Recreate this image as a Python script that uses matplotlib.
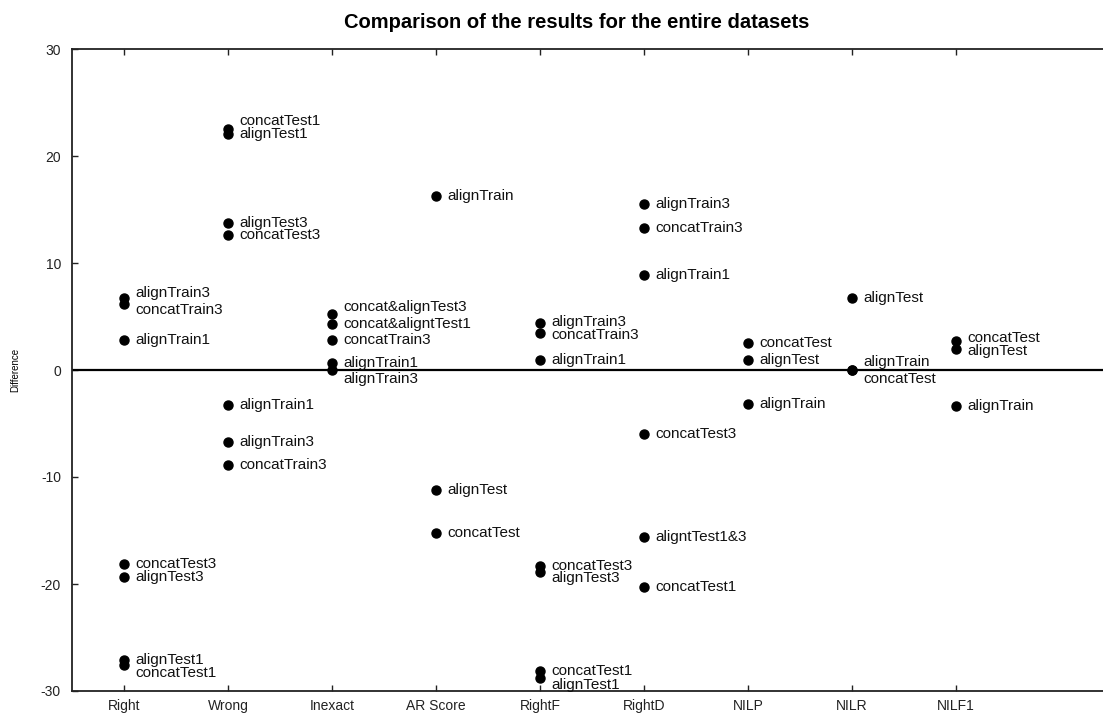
import matplotlib
matplotlib.use("Agg")
import matplotlib.pyplot as plt

plt.rcParams['font.family'] = ['Liberation Sans', 'DejaVu Sans']
plt.rcParams['axes.unicode_minus'] = False

categories = ["Right", "Wrong", "Inexact", "AR Score", "RightF", "RightD", "NILP", "NILR", "NILF1"]

# values, one list per category
right_names = ["alignTrain3", "concatTrain3", "alignTrain1", "concatTest3", "alignTest3", "alignTest1", "concatTest1"]
right_vals = [6.7, 6.2, 2.8, -18.1, -19.3, -27.1, -27.6]

wrong_names = ["concatTest1", "alignTest1", "alignTest3", "concatTest3", "alignTrain1", "alignTrain3", "concatTrain3"]
wrong_vals = [22.5, 22.1, 13.7, 12.6, -3.3, -6.7, -8.9]

inexact_names = ["concat&alignTest3", "concat&aligntTest1", "concatTrain3", "alignTrain1", "alignTrain3"]
inexact_vals = [5.2, 4.3, 2.8, 0.7, 0.0]

ar_names = ["alignTrain", "alignTest", "concatTest"]
ar_vals = [16.3, -11.2, -15.2]

rightf_names = ["alignTrain3", "concatTrain3", "alignTrain1", "concatTest3", "alignTest3", "concatTest1", "alignTest1"]
rightf_vals = [4.4, 3.5, 0.9, -18.3, -18.9, -28.1, -28.8]

rightd_names = ["alignTrain3", "concatTrain3", "alignTrain1", "concatTest3", "aligntTest1&3", "concatTest1"]
rightd_vals = [15.5, 13.3, 8.9, -6.0, -15.6, -20.3]

nilp_names = ["concatTest", "alignTest", "alignTrain"]
nilp_vals = [2.5, 0.9, -3.2]

nilr_names = ["alignTest", "alignTrain", "concatTest"]
nilr_vals = [6.7, 0.0, 0.0]

nilf1_names = ["concatTest", "alignTest", "alignTrain"]
nilf1_vals = [2.7, 2.0, -3.4]

columns = [
    (right_names, right_vals),
    (wrong_names, wrong_vals),
    (inexact_names, inexact_vals),
    (ar_names, ar_vals),
    (rightf_names, rightf_vals),
    (rightd_names, rightd_vals),
    (nilp_names, nilp_vals),
    (nilr_names, nilr_vals),
    (nilf1_names, nilf1_vals),
]

# vertical nudges (pixels, + is down) for labels that would collide
label_nudge = {
    (0, "alignTrain3"): -5, (0, "concatTrain3"): 6, (0, "concatTest1"): 8,
    (1, "concatTest1"): -8,
    (2, "concat&alignTest3"): -7, (2, "alignTrain3"): 9,
    (4, "alignTrain3"): -1, (4, "concatTrain3"): 2, (4, "alignTest3"): 6, (4, "alignTest1"): 7,
    (7, "alignTrain"): -8, (7, "concatTest"): 9,
    (8, "concatTest"): -3, (8, "alignTest"): 2,
}

fig = plt.figure(figsize=(11.03, 7.15), dpi=100)
ax = fig.add_axes([72 / 1103, 24 / 715, 1040 / 1103, 642 / 715])

for i, (names, vals) in enumerate(columns):
    xs = [i + 1] * len(vals)
    ax.plot(xs, vals, 'o', color='black', markersize=6.5, zorder=3, clip_on=False)
    for name, v in zip(names, vals):
        dy = label_nudge.get((i, name), 0)
        ax.annotate(name, (i + 1, v), xytext=(11, -dy), textcoords='offset pixels',
                    ha='left', va='center', fontsize=11, color='#111111')

ax.axhline(0, color='black', linewidth=1.6, zorder=2)

ax.set_xlim(0.5, 10.5)
ax.set_ylim(-30, 30)
ax.set_xticks(range(1, len(categories) + 1))
ax.set_xticklabels(categories)
ax.set_yticks([-30, -20, -10, 0, 10, 20, 30])
ax.tick_params(direction='in', length=4, width=1, top=True, right=True,
               labelsize=10, colors='#222222', pad=6)
ax.tick_params(axis='y', pad=8)
for s in ax.spines.values():
    s.set_linewidth(1.3)
    s.set_color('#222222')

fig.text(15 / 1103, 1 - 370 / 715, "Difference", rotation=90, ha='center', va='center', fontsize=7)
fig.text(577 / 1103, 1 - 22 / 715, "Comparison of the results for the entire datasets",
         ha='center', va='center', fontsize=14.5, fontweight='bold')

fig.savefig("out.png", dpi=100)
